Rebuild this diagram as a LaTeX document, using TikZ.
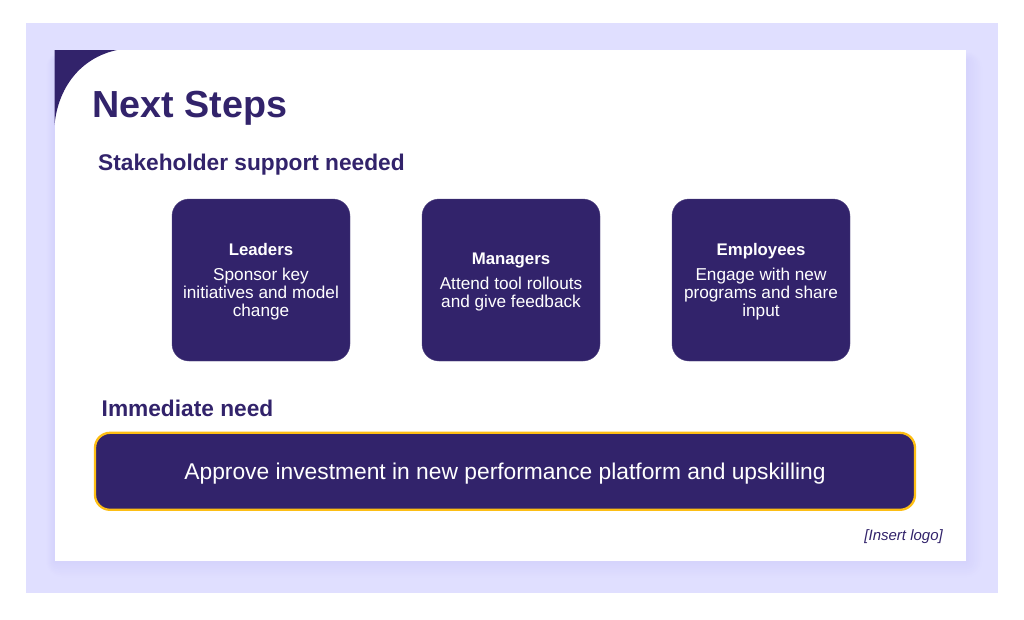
\documentclass[tikz,border=0pt]{standalone}
\usepackage{fontspec}
\setmainfont{Liberation Sans}
\usepackage{xcolor}
\definecolor{deepPurple}{HTML}{32236B}
\definecolor{paleLavender}{HTML}{E0DFFF}
\definecolor{shadowLavender}{HTML}{D4D2FC}
\definecolor{barGold}{HTML}{FDBE14}
\newcommand{\sized}[2]{\fontsize{#1}{#2}\selectfont}
\newcommand{\cardhead}[1]{{\sized{16.8}{18}\bfseries #1}\\[7pt]}

\begin{document}
\begin{tikzpicture}[
    x=1pt, y=-1pt,
    card/.style={rectangle, rounded corners=17pt, fill=deepPurple, text=white, draw=deepPurple!85!white, line width=0.4pt,
      minimum width=178pt, minimum height=162pt, align=center, inner sep=0pt, text depth=0pt, font=\sized{17.2}{18}},
    heading/.style={anchor=west, inner sep=0pt, text=deepPurple, font=\sized{22.7}{24}\bfseries},
    bar/.style={rectangle, rounded corners=15pt, fill=deepPurple, draw=barGold, line width=2.3pt, text=white,
      minimum width=820pt, minimum height=77pt, inner sep=0pt, text depth=0pt, font=\sized{22.8}{26}}
  ]
  \useasboundingbox (0,0) rectangle (1024,619);

  % Backdrop
  \fill[white] (0,0) rectangle (1024,619);
  \fill[paleLavender] (26,23) rectangle (998,593);
  \foreach \spread/\tint in {16/10,14/20,12/30,10/40,8/50,6/60,4/70,2/85}
    \fill[shadowLavender!\tint!paleLavender, rounded corners=\spread pt] (54.5-\spread/2,60-\spread/2) rectangle (966+\spread,561+\spread);

  % Slide
  \fill[white] (54.5,50) rectangle (966,561);
  \fill[deepPurple] (54.5,50) -- (117,50) .. controls (80,58) and (58,88) .. (54.5,125) -- cycle;

  % Headings
  \node[anchor=west, inner sep=0pt, text=deepPurple, font=\sized{37.7}{42}\bfseries] (title) at (92,108) {Next Steps};
  \node[heading] (support) at (98,165) {Stakeholder support needed};
  \node[heading] (immediate) at (101.5,408.5) {Immediate need};

  % Cards
  \node[card] (leaders) at (261,280) {\cardhead{Leaders}Sponsor key\\initiatives and model\\change};
  \node[card] (managers) at (511,280) {\cardhead{Managers}Attend tool rollouts\\and give feedback};
  \node[card] (employees) at (761,280) {\cardhead{Employees}Engage with new\\programs and share\\input};

  % Need
  \node[bar] (approve) at (505,471.3) {Approve investment in new performance platform and upskilling};
  \node[anchor=east, inner sep=0pt, text=deepPurple, font=\sized{15}{17}\itshape] (logo) at (943,537) {[Insert logo]};

\end{tikzpicture}
\end{document}
